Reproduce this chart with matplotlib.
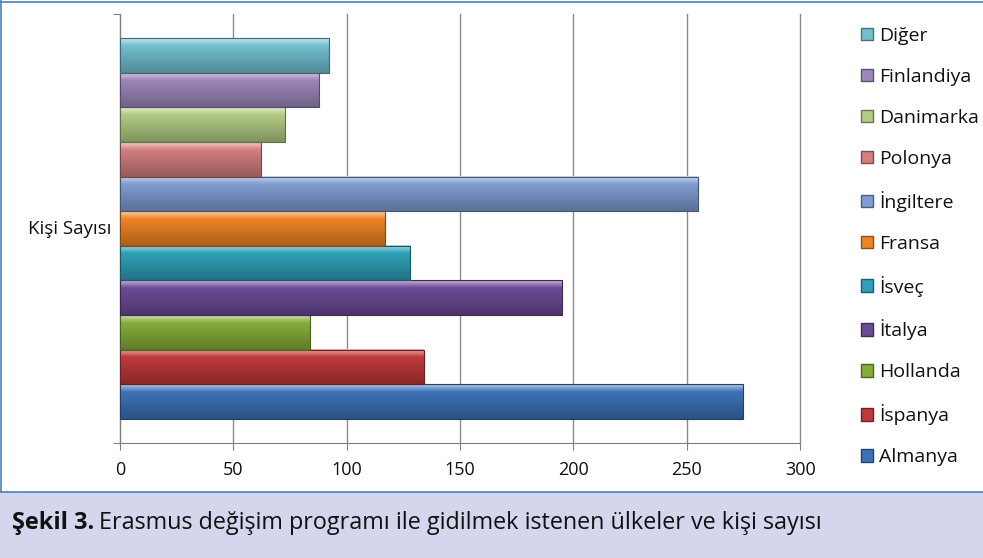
import matplotlib
matplotlib.use("Agg")
import matplotlib.pyplot as plt
import numpy as np
from matplotlib.colors import to_rgb
from matplotlib.patches import Rectangle
from matplotlib.lines import Line2D

# data (bottom to top, as drawn)
countries = ["Almanya", "İspanya", "Hollanda", "İtalya", "İsveç", "Fransa",
             "İngiltere", "Polonya", "Danimarka", "Finlandiya", "Diğer"]
counts = [275, 134, 84, 195, 128, 117, 255, 62, 73, 88, 92]
colors = ["#3d72b8", "#c0393a", "#86ac3a", "#6b4a96", "#2fa0b8", "#ee8424",
          "#7f9dd0", "#d27f7d", "#b2cb82", "#9d88bb", "#72bfd0"]
category = "Kişi Sayısı"
xticks = [0, 50, 100, 150, 200, 250, 300]

fnt = "Open Sans"
fig = plt.figure(figsize=(9.83, 5.58), dpi=100)
ax = fig.add_axes([0.122, 0.206, 0.692, 0.769])

n = len(countries)
group = 0.888
h = group / n
pos = -group / 2 + h / 2 + np.arange(n) * h

bars = ax.barh(pos, counts, height=h, color=colors, edgecolor="none", zorder=3)

# fake 3d shading: vertical gradient on every bar
for b, c in zip(bars, colors):
    x0, y0 = b.get_x(), b.get_y()
    w, hh = b.get_width(), b.get_height()
    base = np.array(to_rgb(c))
    t = np.linspace(0, 1, 64)[:, None]
    light = base + (1 - base) * 0.6
    dark = base * 0.72
    grad = np.where(t < 0.22, light + (base - light) * (t / 0.22),
                    base + (dark - base) * ((t - 0.22) / 0.78))
    img = np.repeat(grad[:, None, :], 2, axis=1).reshape(64, 2, 3)
    ax.imshow(img, extent=[x0, x0 + w, y0, y0 + hh], origin="upper",
              aspect="auto", zorder=3.5, interpolation="bilinear")
    ax.add_patch(Rectangle((x0, y0), w, hh, fill=False,
                           edgecolor=tuple(base * 0.55), lw=0.8, zorder=4))

ax.set_xlim(0, 300)
ax.set_ylim(-0.5, 0.5)
ax.set_xticks(xticks)
ax.set_xticklabels([str(v) for v in xticks], fontsize=13, family=fnt, color="#111111")
ax.set_yticks([-0.5, 0.5])
ax.set_yticklabels([])
ax.tick_params(axis="y", length=5, color="#808080", direction="out")
ax.tick_params(axis="x", length=5, color="#808080", direction="out", pad=8)
ax.text(-0.012, 0.5, category, transform=ax.transAxes, ha="right", va="center",
        fontsize=13.5, family=fnt, color="#111111")
ax.xaxis.grid(True, color="#8c8c8c", lw=1.0)
for gl in ax.get_xgridlines():
    gl.set_clip_on(False)
ax.set_axisbelow(True)
for s in ["top", "right"]:
    ax.spines[s].set_visible(False)
ax.spines["left"].set_color("#808080")
ax.spines["bottom"].set_color("#808080")

# legend, top to bottom like the reference
handles = [Rectangle((0, 0), 1, 1, facecolor=c, edgecolor=tuple(np.array(to_rgb(c)) * 0.6))
           for c in colors][::-1]
leg = fig.legend(handles, countries[::-1], loc="upper left",
                 bbox_to_anchor=(0.858, 0.983), frameon=False,
                 prop={"family": fnt, "size": 14}, handlelength=0.62,
                 handleheight=0.62, handletextpad=0.3, labelspacing=1.18)
for txt in leg.get_texts():
    txt.set_color("#111111")

# caption band
fig.patches.append(Rectangle((0, 0), 1, 0.118, transform=fig.transFigure,
                             facecolor="#d3d6ec", edgecolor="none", zorder=0))
fig.lines.append(Line2D([0, 1], [0.118, 0.118], transform=fig.transFigure,
                        color="#4f81bd", lw=1.2))
fig.lines.append(Line2D([0, 1], [0.997, 0.997], transform=fig.transFigure,
                        color="#4f81bd", lw=1.2))
fig.lines.append(Line2D([0.001, 0.001], [0.118, 1], transform=fig.transFigure,
                        color="#4f81bd", lw=1.2))

t1 = fig.text(0.012, 0.062, "Şekil 3.", fontsize=17, fontweight="bold",
              family=fnt, va="center", color="#111111")
fig.canvas.draw()
bb = t1.get_window_extent().transformed(fig.transFigure.inverted())
fig.text(bb.x1 + 0.005, 0.062, "Erasmus değişim programı ile gidilmek istenen ülkeler ve kişi sayısı",
         fontsize=16.8, family=fnt, va="center", color="#111111")

fig.savefig("out.png", dpi=100)
